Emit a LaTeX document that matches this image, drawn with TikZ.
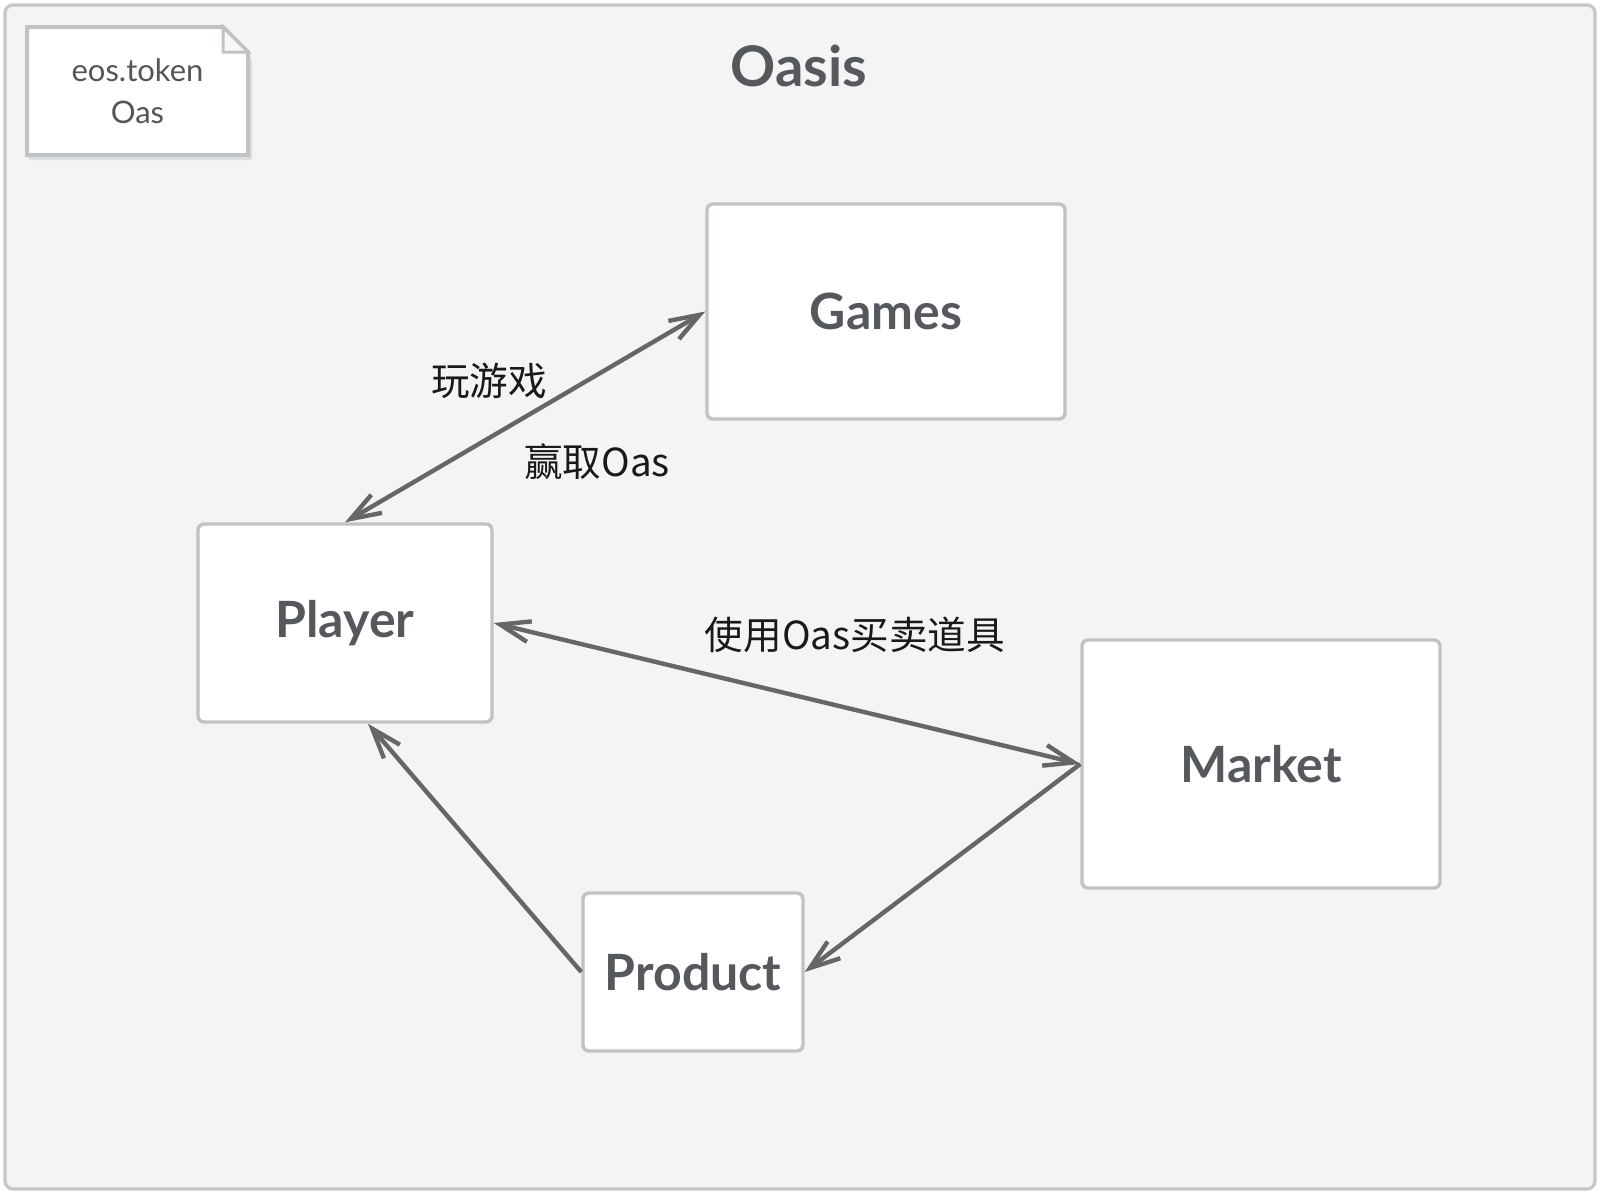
\documentclass[tikz,border=0pt]{standalone}
\usepackage{fontspec}
\setmainfont{Lato}
\newfontfamily\cjk{Noto Sans CJK SC}
\usetikzlibrary{arrows.meta}
\definecolor{bgc}{HTML}{F4F4F4}
\definecolor{framec}{HTML}{C4C6C8}
\definecolor{boxc}{HTML}{BFC3C6}
\definecolor{arrc}{HTML}{666666}
\definecolor{txtc}{HTML}{55595D}
\definecolor{notec}{HTML}{555555}
\definecolor{shadc}{HTML}{DDDFE0}
\begin{document}
\begin{tikzpicture}[x=0.5pt,y=-0.5pt,
  box/.style={draw=boxc,line width=1.7pt,fill=white,rounded corners=3pt,
    font=\fontsize{25}{30}\selectfont\bfseries,text=txtc,inner sep=0pt},
  conn/.style={draw=arrc,line width=2.2pt,
    arrows={-Straight Barb[length=15pt,width=10.5pt]}},
  conn2/.style={conn,arrows={Straight Barb[length=15pt,width=10.5pt]-Straight Barb[length=15pt,width=10.5pt]}},
  lbl/.style={font=\cjk\fontsize{19.3}{23}\selectfont,text=black!90,inner sep=0pt}]
\useasboundingbox (0,0) rectangle (1600,1194);
% frame
\draw[draw=framec,fill=bgc,line width=1.6pt,rounded corners=4pt] (5,5) rectangle (1595,1189);
% title
\node[font=\fontsize{28}{34}\selectfont\bfseries,text=txtc] (title) at (799,66) {Oasis};
% note
\fill[shadc] (29,33) -- (223,33) -- (252,60) -- (252,160) -- (29,160) -- cycle;
\draw[draw=boxc,fill=white,line width=2pt,line join=miter]
  (27,27) -- (223,27) -- (248,52) -- (248,155) -- (27,155) -- cycle;
\draw[draw=boxc,fill=bgc!60!white,line width=1.5pt,line join=miter]
  (223,27) -- (223,52) -- (248,52) -- cycle;
\node[font=\fontsize{15.5}{21}\selectfont,text=notec,align=center] (note) at (137.5,91)
  {eos.token\\Oas};
% boxes
\node[box,minimum width=179pt,minimum height=107.5pt] (games) at (886,311.5) {Games};
\node[box,minimum width=147pt,minimum height=99pt] (player) at (345,623) {Player};
\node[box,minimum width=179pt,minimum height=124pt] (market) at (1261,764) {Market};
\node[box,minimum width=110pt,minimum height=79pt] (product) at (693,972) {Product};
% connectors
\draw[conn2] (player.north) -- (games.west);
\draw[conn2] (player.east) -- (market.west);
\draw[conn] (market.west) -- (product.east);
\coordinate (ptip) at ([xshift=11.5pt]player.south);
\draw[conn] (product.west) -- (ptip);
% labels
\node[lbl] (l1) at (489,381) {玩游戏};
\node[lbl] (l2) at (597,462) {赢取Oas};
\node[lbl] (l3) at (855,635) {使用Oas买卖道具};
\end{tikzpicture}
\end{document}
